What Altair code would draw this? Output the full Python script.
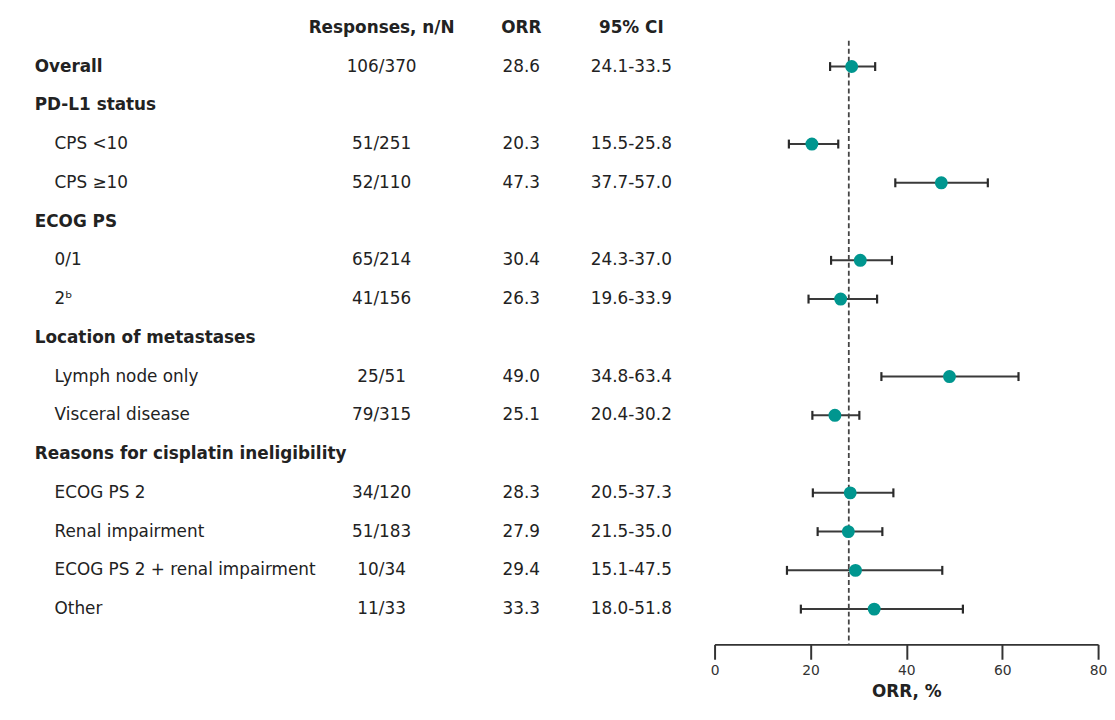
import altair as alt
import pandas as pd

# ---------------- data ----------------
col_headers = ["Responses, n/N", "ORR", "95% CI"]
row_labels = ["Overall", "PD-L1 status", "CPS <10", "CPS ≥10", "ECOG PS", "0/1", "2ᵇ",
              "Location of metastases", "Lymph node only", "Visceral disease",
              "Reasons for cisplatin ineligibility", "ECOG PS 2", "Renal impairment",
              "ECOG PS 2 + renal impairment", "Other"]
row_is_group = [True, True, False, False, True, False, False, True, False, False,
                True, False, False, False, False]
responses = ["106/370", "", "51/251", "52/110", "", "65/214", "41/156", "", "25/51",
             "79/315", "", "34/120", "51/183", "10/34", "11/33"]
orr = [28.6, None, 20.3, 47.3, None, 30.4, 26.3, None, 49.0, 25.1, None, 28.3, 27.9, 29.4, 33.3]
ci_low = [24.1, None, 15.5, 37.7, None, 24.3, 19.6, None, 34.8, 20.4, None, 20.5, 21.5, 15.1, 18.0]
ci_high = [33.5, None, 25.8, 57.0, None, 37.0, 33.9, None, 63.4, 30.2, None, 37.3, 35.0, 47.5, 51.8]
reference_orr = 28
x_ticks = [0, 20, 40, 60, 80]

# ---------------- tables ----------------
rows = list(range(1, len(row_labels) + 1))
groups = pd.DataFrame({"row": [r for r, g in zip(rows, row_is_group) if g],
                       "label": [l for l, g in zip(row_labels, row_is_group) if g]})
items = pd.DataFrame({"row": [r for r, g in zip(rows, row_is_group) if not g],
                      "label": [l for l, g in zip(row_labels, row_is_group) if not g]})

est_rows = []
for r, rs, o, lo, hi in zip(rows, responses, orr, ci_low, ci_high):
    if o is None:
        continue
    est_rows.append({"row": r, "resp": rs, "orr": o, "lo": lo, "hi": hi,
                     "orr_txt": f"{o:.1f}", "ci_txt": f"{lo:.1f}-{hi:.1f}"})
est = pd.DataFrame(est_rows)
heads = pd.DataFrame({"row": [0], "h0": [col_headers[0]], "h1": [col_headers[1]], "h2": [col_headers[2]]})
ref_df = pd.DataFrame({"ref": [reference_orr]})

FONT = "DejaVu Sans"
TXT = "#222222"
LINE = "#3a3a3a"
TEAL = "#00968f"
H = 639
yscale = alt.Scale(domain=[-0.43, 15.91], reverse=True, nice=False, zero=False)
Y = alt.Y("row:Q", scale=yscale, axis=None)
col_x = [377, 518, 629]

# ---------------- left (table) panel ----------------
def txt(data, field, x, align="center", bold=False):
    return alt.Chart(data).mark_text(
        align=align, baseline="middle", font=FONT, fontSize=17,
        fontWeight="bold" if bold else "normal", color=TXT
    ).encode(x=alt.value(x), y=Y, text=f"{field}:N")

left_layers = [
    txt(groups, "label", 27, align="left", bold=True),
    txt(items, "label", 47, align="left"),
    txt(est, "resp", col_x[0]),
    txt(est, "orr_txt", col_x[1]),
    txt(est, "ci_txt", col_x[2]),
    txt(heads, "h0", col_x[0], bold=True),
    txt(heads, "h1", col_x[1], bold=True),
    txt(heads, "h2", col_x[2], bold=True),
]
left = alt.layer(*left_layers).properties(width=708, height=H)

# ---------------- right (forest) panel ----------------
xscale = alt.Scale(domain=[0, 80], nice=False, zero=False)
xaxis = alt.Axis(values=x_ticks, title="ORR, %", grid=False, labelFlush=False)

bars = alt.Chart(est).mark_rule(color=LINE, strokeWidth=2).encode(
    x=alt.X("lo:Q", scale=xscale, axis=xaxis), x2="hi:Q", y=Y)
ref_line = alt.Chart(ref_df).mark_rule(color="#444444", strokeWidth=1.8, strokeDash=[5, 3]).encode(
    x=alt.X("ref:Q", scale=xscale), y=alt.value(30), y2=alt.value(H))
cap_lo = alt.Chart(est).mark_rule(color="#2a2a2a", strokeWidth=2.2, yOffset=-4.5, y2Offset=4.5).encode(
    x=alt.X("lo:Q", scale=xscale), y=Y, y2="row:Q")
cap_hi = alt.Chart(est).mark_rule(color="#2a2a2a", strokeWidth=2.2, yOffset=-4.5, y2Offset=4.5).encode(
    x=alt.X("hi:Q", scale=xscale), y=Y, y2="row:Q")
pts = alt.Chart(est).mark_circle(color=TEAL, opacity=1, size=170).encode(
    x=alt.X("orr:Q", scale=xscale), y=Y)
right = alt.layer(bars, ref_line, cap_lo, cap_hi, pts).properties(width=387, height=H)

chart = alt.hconcat(left, right, spacing=0).properties(
    padding={"left": 0, "top": 0, "right": 0, "bottom": 0}
).configure_view(stroke=None).configure_axis(
    domainColor="#333333", domainWidth=2, tickColor="#333333", tickWidth=2, tickSize=15,
    labelFont=FONT, labelFontSize=14, labelColor="#333333", labelPadding=4,
    titleFont=FONT, titleFontSize=17, titleFontWeight="bold", titleColor=TXT, titlePadding=7
)

chart.save("out.html", embed_options={"renderer": "svg", "actions": False})
